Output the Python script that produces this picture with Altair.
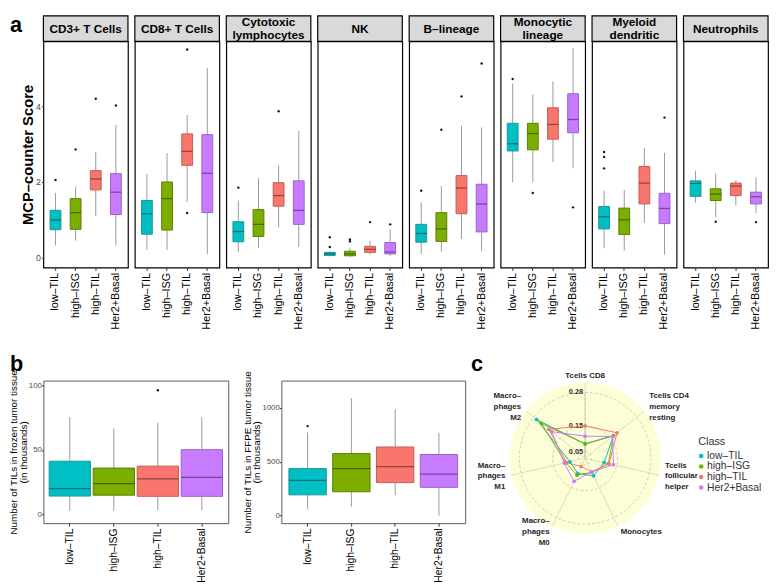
import altair as alt
import pandas as pd

# ---------------- data ----------------
classes = ["low–TIL", "high–ISG", "high–TIL", "Her2+Basal"]
class_fill = ["#00BFC4", "#7CAE00", "#F8766D", "#C77CFF"]
class_edge = ["#1a9699", "#5a8000", "#c55c55", "#9c60c9"]
class_mid = ["#164f51", "#334800", "#6e2b26", "#552f73"]

cells = ["CD3+ T Cells", "CD8+ T Cells", "Cytotoxic\nlymphocytes", "NK",
         "B–lineage", "Monocytic\nlineage", "Myeloid\ndendritic", "Neutrophils"]

# MCP-counter box statistics, one list per cell type, values in class order
mcp_low = [[0.32, 0.45, 1.10, 0.32], [0.21, 0.21, 1.47, 0.10], [0.15, 0.26, 0.80, 0.28],
           [0.03, 0.02, 0.09, 0.04], [0.10, 0.16, 0.49, 0.17], [1.99, 2.00, 2.53, 2.36],
           [0.25, 0.19, 0.92, 0.08], [1.45, 1.08, 1.38, 1.18]]
mcp_q1 = [[0.74, 0.75, 1.79, 1.14], [0.62, 0.73, 2.44, 1.19], [0.42, 0.56, 1.36, 0.88],
          [0.06, 0.05, 0.14, 0.10], [0.41, 0.43, 1.16, 0.68], [2.82, 2.85, 3.13, 3.30],
          [0.76, 0.61, 1.42, 0.90], [1.62, 1.51, 1.64, 1.42]]
mcp_med = [[0.99, 1.19, 2.08, 1.73], [1.16, 1.56, 2.81, 2.23], [0.69, 0.88, 1.64, 1.25],
           [0.10, 0.10, 0.22, 0.15], [0.64, 0.76, 1.84, 1.42], [3.01, 3.28, 3.52, 3.65],
           [1.08, 1.00, 1.97, 1.30], [1.96, 1.68, 1.89, 1.61]]
mcp_q3 = [[1.25, 1.56, 2.30, 2.22], [1.51, 2.00, 3.27, 3.25], [0.95, 1.27, 1.98, 2.03],
          [0.14, 0.17, 0.30, 0.40], [0.88, 1.19, 2.17, 1.94], [3.55, 3.55, 3.96, 4.33],
          [1.35, 1.31, 2.41, 1.70], [2.03, 1.82, 1.97, 1.73]]
mcp_high = [[1.71, 1.88, 2.79, 3.51], [2.21, 2.76, 3.77, 5.01], [1.51, 2.10, 2.44, 3.35],
            [0.17, 0.26, 0.45, 0.75], [1.46, 1.89, 3.48, 3.44], [4.60, 4.31, 4.66, 5.54],
            [1.77, 1.79, 2.89, 2.77], [2.30, 2.23, 2.05, 2.12]]

out_cell = [0, 0, 0, 0, 1, 1, 2, 2, 3, 3, 3, 3, 3, 3, 4, 4, 4, 4, 5, 5, 5, 6, 6, 6, 6, 7, 7]
out_class = [0, 1, 2, 3, 2, 2, 0, 2, 0, 0, 1, 1, 2, 3, 0, 1, 2, 3, 0, 1, 3, 0, 0, 0, 3, 1, 3]
out_value = [2.05, 2.86, 4.20, 4.02, 5.50, 1.18, 1.85, 3.87, 0.28, 0.54, 0.43, 0.48, 0.94, 0.88,
             1.77, 3.38, 4.26, 5.13, 4.72, 1.71, 1.33, 2.79, 2.66, 2.36, 3.70, 0.95, 0.94]

# TIL counts (thousands)
frozen_low = [3.0, 3.0, 3.6, 3.6]
frozen_q1 = [14.4, 15.1, 14.2, 14.2]
frozen_med = [20.2, 24.0, 27.6, 28.9]
frozen_q3 = [41.3, 36.0, 37.5, 50.2]
frozen_high = [75.5, 66.4, 71.0, 75.3]
frozen_out_class = [2]
frozen_out_value = [96.0]

ffpe_low = [59, 83, 190, 0]
ffpe_q1 = [193, 222, 307, 263]
ffpe_med = [327, 437, 455, 385]
ffpe_q3 = [437, 577, 638, 568]
ffpe_high = [773, 1093, 989, 771]
ffpe_out_class = [0]
ffpe_out_value = [832]

# CIBERSORT radar
radar_axes = ["Tcells CD8", "Tcells CD4\nmemory\nresting", "Tcells\nfollicular\nhelper",
              "Monocytes", "Macro–\nphages\nM0", "Macro–\nphages\nM1", "Macro–\nphages\nM2"]
radar_vals = [
    [0.080, 0.165, 0.100, 0.100, 0.090, 0.085, 0.266],
    [0.080, 0.165, 0.117, 0.085, 0.097, 0.102, 0.242],
    [0.150, 0.183, 0.119, 0.083, 0.060, 0.098, 0.205],
    [0.110, 0.160, 0.137, 0.083, 0.124, 0.108, 0.190],
]
grid_vals = [0.05, 0.15, 0.28]

# ---------------- helpers ----------------
FONT = "Liberation Sans"
WHISK = "#9a9a9a"
INDEP = dict(color="independent", fill="independent", stroke="independent")
PANEL_W = 86


def band(axis):
    return alt.X("cls:N", sort=classes,
                 scale=alt.Scale(domain=classes, paddingInner=0, paddingOuter=0.1),
                 axis=axis)


fill_sc = alt.Scale(domain=classes, range=class_fill)
edge_sc = alt.Scale(domain=classes, range=class_edge)
mid_sc = alt.Scale(domain=classes, range=class_mid)


def box_layers(stats, outs, xenc, yscale, yaxis, box_w):
    base = alt.Chart(stats)
    whisk = base.mark_rule(color=WHISK, strokeWidth=1).encode(
        x=xenc, y=alt.Y("lo:Q", scale=yscale, axis=yaxis, title=None), y2="hi:Q")
    box = base.mark_bar(size=box_w, strokeWidth=1).encode(
        x=xenc, y=alt.Y("q1:Q", scale=yscale), y2="q3:Q",
        fill=alt.Fill("cls:N", scale=fill_sc, legend=None),
        stroke=alt.Stroke("cls:N", scale=edge_sc, legend=None))
    med = base.mark_tick(size=box_w, thickness=1.3).encode(
        x=xenc, y=alt.Y("med:Q", scale=yscale),
        color=alt.Color("cls:N", scale=mid_sc, legend=None))
    pts = alt.Chart(outs).mark_circle(size=6, color="#1a1a1a", opacity=1).encode(
        x=xenc, y=alt.Y("v:Q", scale=yscale))
    return [whisk, box, med, pts]


def x_axis(size):
    return alt.Axis(title=None, labelAngle=270, labelFontSize=size, labelColor="black",
                    labelPadding=2, tickSize=3, tickColor="#333333", domain=False, grid=False)

# ---------------- panel a ----------------
ya = alt.Scale(domain=[-0.26, 5.714], nice=False, zero=False)
panels = []
for k, name in enumerate(cells):
    stats = pd.DataFrame({"cls": classes, "lo": mcp_low[k], "q1": mcp_q1[k],
                          "med": mcp_med[k], "q3": mcp_q3[k], "hi": mcp_high[k]})
    outs = pd.DataFrame({"cls": [classes[c] for c, ce in zip(out_class, out_cell) if ce == k],
                         "v": [v for v, ce in zip(out_value, out_cell) if ce == k]})
    if k == 0:
        yaxis = alt.Axis(values=[0, 2, 4], title="MCP–counter Score", titleFontSize=15,
                         titleFontWeight="bold", titleColor="black", labelFontSize=9,
                         labelColor="#4d4d4d", tickSize=2, tickColor="#333333",
                         labelPadding=1, titlePadding=0, grid=False, domain=False)
    else:
        yaxis = None
    strip_df = pd.DataFrame({"t": [name]})
    strip = alt.Chart(strip_df).mark_rect(fill="#d9d9d9", stroke="black", strokeWidth=1.2).encode(
        x=alt.value(0), x2=alt.value("width"), y=alt.value(-26), y2=alt.value(0))
    layers = [strip]
    lines = name.split("\n")
    for j, ln in enumerate(lines):
        layers.append(alt.Chart(strip_df).mark_text(fontSize=12, fontWeight="bold",
                                                    baseline="middle").encode(
            x=alt.value(PANEL_W / 2.0), y=alt.value(-13 + (j - (len(lines) - 1) / 2.0) * 13),
            text=alt.value(ln)))
    layers += box_layers(stats, outs, band(x_axis(11)), ya, yaxis, 11)
    if k == 0:
        layers.append(alt.Chart(strip_df).mark_text(fontSize=22, fontWeight="bold", align="left",
                                                    baseline="alphabetic").encode(
            x=alt.value(-34), y=alt.value(-10), text=alt.value("a")))
    panels.append(alt.layer(*layers).properties(
        width=PANEL_W, height=230,
        view=alt.ViewBackground(fill="white", stroke="black", strokeWidth=1.2)))

top = alt.hconcat(*panels, spacing=3).resolve_scale(**INDEP)

# ---------------- panel b ----------------
def til_panel(lo, q1, med, q3, hi, oc, ov, domain, ticks, title, box_w, width, tag):
    stats = pd.DataFrame({"cls": classes, "lo": lo, "q1": q1, "med": med, "q3": q3, "hi": hi})
    outs = pd.DataFrame({"cls": [classes[c] for c in oc], "v": ov})
    ys = alt.Scale(domain=domain, nice=False, zero=False)
    yaxis = alt.Axis(values=ticks, format="d", title=title, titleFontSize=10,
                     titleFontWeight="normal", titleColor="black", titleLineHeight=10,
                     labelFontSize=8, labelColor="#4d4d4d", tickSize=2, tickColor="#333333",
                     labelPadding=0, titlePadding=0, grid=False, domain=False)
    layers = box_layers(stats, outs, band(x_axis(10.5)), ys, yaxis, box_w)
    if tag:
        layers.append(alt.Chart(pd.DataFrame({"t": [tag]})).mark_text(
            fontSize=22, fontWeight="bold", align="left", baseline="alphabetic").encode(
            x=alt.value(-34), y=alt.value(-10), text="t:N"))
    return alt.layer(*layers).properties(
        width=width, height=145,
        view=alt.ViewBackground(fill="white", stroke="#5a5a5a", strokeWidth=1))


bl = til_panel(frozen_low, frozen_q1, frozen_med, frozen_q3, frozen_high,
               frozen_out_class, frozen_out_value, [-6.5, 103.5], [0, 25, 50, 75, 100],
               ["Number of TILs in frozen tumor tissue", "(in thousands)"], 42, 188, "b")
br = til_panel(ffpe_low, ffpe_q1, ffpe_med, ffpe_q3, ffpe_high,
               ffpe_out_class, ffpe_out_value, [-70, 1255], [0, 250, 500, 750, 1000, 1250],
               ["Number of TILs in FFPE tumor tissue", "(in thousands)"], 38, 187, None)

# ---------------- panel c ----------------
GMIN, GMAX = min(grid_vals), max(grid_vals)
CENTRE = GMIN - (GMAX - GMIN) / 9.0
PX = 262.0
CW, CH, CX0 = 231, 158, 63
xs = alt.Scale(domain=[-CX0 / PX, (CW - CX0) / PX], nice=False, zero=False)
ysc = alt.Scale(domain=[-CH / 2 / PX, CH / 2 / PX], nice=False, zero=False)
rs = alt.Scale(type="linear", domain=[0, 1], range=[0, PX], zero=True)
BG_R = (GMAX - CENTRE) * 1.15
LAB_R = 0.318
LAB_LH = 11
NAX = len(radar_axes)
TWO_PI = 6.283185307
# legend placement (data units of the radar plane)
LEG_X = 118 / PX
LEG_Y0 = 2.3 / PX
LEG_STEP = 10.7 / PX
LEG_TY = 16 / PX

xoff = alt.X("x0:Q", scale=xs, axis=None)
yoff = alt.Y("y0:Q", scale=ysc, axis=None)

bg = alt.Chart(pd.DataFrame({"r": [BG_R]})).mark_arc(fill="#fdfdd6", strokeOpacity=0).transform_calculate(
    x0="0", y0="0").encode(x=xoff, y=yoff, radius=alt.Radius("r:Q", scale=rs, stack=None),
                           theta=alt.value(0), theta2=alt.value(TWO_PI))

rings = alt.Chart(pd.DataFrame({"g": grid_vals})).mark_arc(
    fillOpacity=0, stroke="#c6c6b2", strokeWidth=0.8, strokeDash=[3, 2]).transform_calculate(
    x0="0", y0="0", r=f"datum.g - {CENTRE}").encode(
    x=xoff, y=yoff, radius=alt.Radius("r:Q", scale=rs, stack=None),
    theta=alt.value(0), theta2=alt.value(TWO_PI))

axes_df = pd.DataFrame({"name": radar_axes, "i": list(range(NAX))})
spokes = alt.Chart(axes_df).mark_rule(color="#d3d3bf", strokeWidth=0.8).transform_calculate(
    ang=f"datum.i * 2 * PI / {NAX}", x0="0", y0="0",
    sx=f"{BG_R} * sin(datum.ang)", sy=f"{BG_R} * cos(datum.ang)").encode(
    x=xoff, y=yoff, x2="sx:Q", y2="sy:Q")

grid_lab = alt.Chart(pd.DataFrame({"g": grid_vals})).mark_text(
    align="right", baseline="middle", dx=-2, fontSize=7.5, fontWeight="bold",
    color="#333333").transform_calculate(
    x0="0", y0=f"datum.g - {CENTRE}", lab="format(datum.g, '.2f')").encode(
    x=xoff, y=yoff, text="lab:N")

lab_rows = []
for i, nm in enumerate(radar_axes):
    parts = nm.split("\n")
    for j, p in enumerate(parts):
        lab_rows.append({"i": i, "j": j, "n": len(parts), "txt": p})
lab_df = pd.DataFrame(lab_rows)


def axis_labels(cond, align):
    return alt.Chart(lab_df).mark_text(
        align=align, baseline="middle", fontSize=8, fontWeight="bold",
        color="#262626").transform_calculate(
        ang=f"datum.i * 2 * PI / {NAX}",
        x0=f"{LAB_R} * sin(datum.ang)",
        y0=f"{LAB_R} * cos(datum.ang) + ((datum.n - 1) / 2 - datum.j) * {LAB_LH / PX}"
    ).transform_filter(cond).encode(x=xoff, y=yoff, text="txt:N")


lab_r = axis_labels("datum.x0 > 0.02", "left")
lab_l = axis_labels("datum.x0 < -0.02", "right")
lab_c = axis_labels("abs(datum.x0) <= 0.02", "center")

rows = []
for cls, vals in zip(classes, radar_vals):
    for i in range(NAX + 1):
        rows.append({"cls": cls, "i": i, "v": vals[i % NAX]})
radar_df = pd.DataFrame(rows)
radar_base = alt.Chart(radar_df).transform_calculate(
    ang=f"datum.i * 2 * PI / {NAX}",
    px=f"(datum.v - {CENTRE}) * sin(datum.ang)",
    py=f"(datum.v - {CENTRE}) * cos(datum.ang)")
rlines = radar_base.mark_line(strokeWidth=1).encode(
    x=alt.X("px:Q", scale=xs, axis=None), y=alt.Y("py:Q", scale=ysc, axis=None),
    order="i:Q", detail="cls:N",
    stroke=alt.Stroke("cls:N", scale=fill_sc, legend=None))
rpts = radar_base.transform_filter(f"datum.i < {NAX}").mark_circle(size=14, opacity=1).encode(
    x=alt.X("px:Q", scale=xs, axis=None), y=alt.Y("py:Q", scale=ysc, axis=None),
    color=alt.Color("cls:N", scale=fill_sc, legend=None))

# legend ("Class") built from the class list
leg_df = pd.DataFrame({"cls": classes, "k": list(range(len(classes)))})
leg_base = alt.Chart(leg_df).transform_calculate(
    x0=f"{LEG_X}", y0=f"{LEG_Y0} - datum.k * {LEG_STEP}")
leg_pts = leg_base.mark_circle(size=22, opacity=1).encode(
    x=xoff, y=yoff, color=alt.Color("cls:N", scale=fill_sc, legend=None))
leg_txt = leg_base.mark_text(align="left", baseline="middle", dx=6, fontSize=10.5,
                             color="#333333").encode(x=xoff, y=yoff, text="cls:N")
leg_title = alt.Chart(pd.DataFrame({"t": ["Class"]})).mark_text(
    align="left", baseline="middle", dx=-3, fontSize=11, color="#333333").transform_calculate(
    x0=f"{LEG_X}", y0=f"{LEG_TY}").encode(x=xoff, y=yoff, text="t:N")

c_tag = alt.Chart(pd.DataFrame({"t": ["c"]})).mark_text(
    fontSize=22, fontWeight="bold", align="left", baseline="alphabetic").encode(
    x=alt.value(-53), y=alt.value(-10), text="t:N")

cc = alt.layer(bg, rings, spokes, grid_lab, lab_r, lab_l, lab_c, rlines, rpts,
               leg_pts, leg_txt, leg_title, c_tag).properties(
    width=CW, height=CH, view=alt.ViewBackground(strokeOpacity=0))

right_part = alt.hconcat(br, cc, spacing=5).resolve_scale(**INDEP)
bottom = alt.hconcat(bl, right_part, spacing=12).resolve_scale(**INDEP)

chart = alt.vconcat(top, bottom, spacing=22).resolve_scale(
    **INDEP).properties(padding=0).configure(font=FONT)

chart.save("out.html", embed_options={"renderer": "svg", "actions": False})
